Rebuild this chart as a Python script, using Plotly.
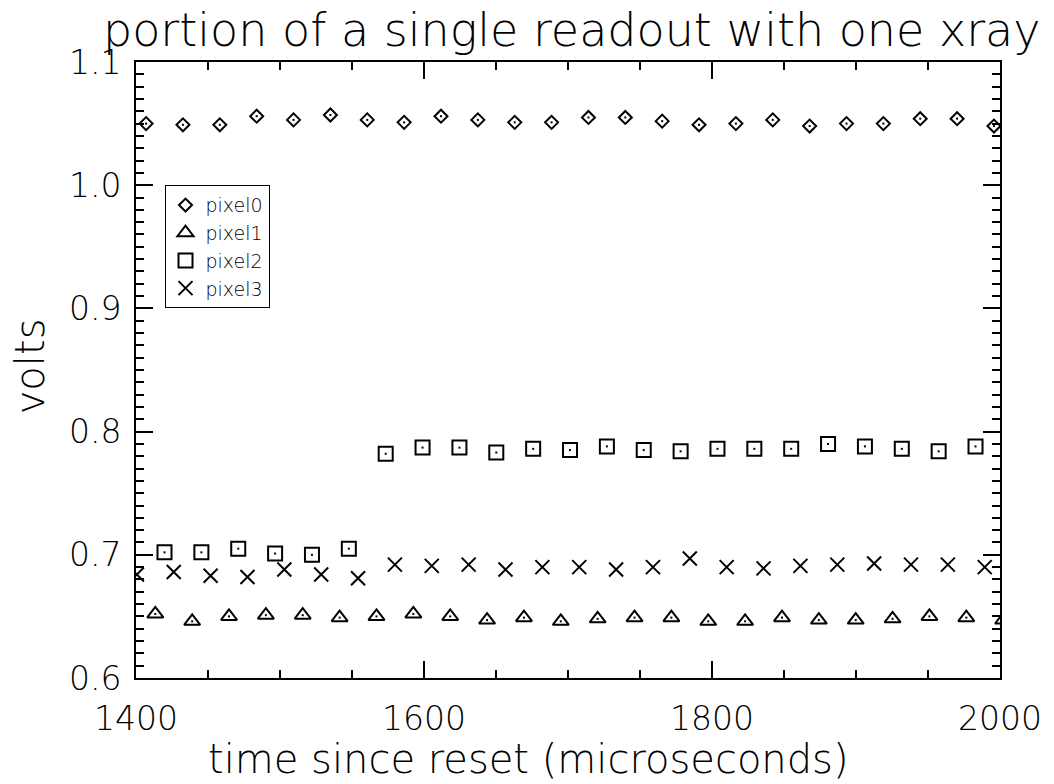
import plotly.graph_objects as go

# sample times (microseconds)
t_pixel0 = [1407.0, 1432.6, 1458.2, 1483.8, 1509.4, 1535.0, 1560.6, 1586.2, 1611.8, 1637.4,
            1663.0, 1688.6, 1714.2, 1739.8, 1765.4, 1791.0, 1816.6, 1842.2, 1867.8, 1893.4,
            1919.0, 1944.6, 1970.2, 1995.8]
t_pixel1 = [1413.4, 1439.0, 1464.6, 1490.2, 1515.8, 1541.4, 1567.0, 1592.6, 1618.2, 1643.8,
            1669.4, 1695.0, 1720.6, 1746.2, 1771.8, 1797.4, 1823.0, 1848.6, 1874.2, 1899.8,
            1925.4, 1951.0, 1976.6, 2002.2]
t_pixel2 = [1419.8, 1445.4, 1471.0, 1496.6, 1522.2, 1547.8, 1573.4, 1599.0, 1624.6, 1650.2,
            1675.8, 1701.4, 1727.0, 1752.6, 1778.2, 1803.8, 1829.4, 1855.0, 1880.6, 1906.2,
            1931.8, 1957.4, 1983.0]
t_pixel3 = [1400.6, 1426.2, 1451.8, 1477.4, 1503.0, 1528.6, 1554.2, 1579.8, 1605.4, 1631.0,
            1656.6, 1682.2, 1707.8, 1733.4, 1759.0, 1784.6, 1810.2, 1835.8, 1861.4, 1887.0,
            1912.6, 1938.2, 1963.8, 1989.4]

# voltages
v_pixel0 = [1.050, 1.049, 1.049, 1.056, 1.053, 1.057, 1.053, 1.051, 1.056, 1.053,
            1.051, 1.051, 1.055, 1.055, 1.052, 1.049, 1.050, 1.053, 1.048, 1.050,
            1.050, 1.054, 1.054, 1.048]
v_pixel1 = [0.652, 0.646, 0.650, 0.651, 0.651, 0.649, 0.650, 0.652, 0.650, 0.647,
            0.649, 0.646, 0.648, 0.649, 0.649, 0.646, 0.646, 0.649, 0.647, 0.647,
            0.648, 0.650, 0.649, 0.647]
v_pixel2 = [0.702, 0.702, 0.705, 0.701, 0.700, 0.705, 0.782, 0.787, 0.787, 0.783,
            0.786, 0.785, 0.788, 0.785, 0.784, 0.786, 0.786, 0.786, 0.790, 0.788,
            0.786, 0.784, 0.788]
v_pixel3 = [0.684, 0.686, 0.683, 0.682, 0.688, 0.684, 0.681, 0.692, 0.691, 0.692,
            0.688, 0.690, 0.690, 0.688, 0.690, 0.697, 0.690, 0.689, 0.691, 0.692,
            0.693, 0.692, 0.692, 0.690]

names = ["pixel0", "pixel1", "pixel2", "pixel3"]
symbols = ["diamond-open", "triangle-up-open", "square-open", "x-thin-open"]
sizes = [10, 14, 14, 14]

FONT = "DejaVu Sans"

fig = go.Figure()
series = [(t_pixel0, v_pixel0), (t_pixel1, v_pixel1), (t_pixel2, v_pixel2), (t_pixel3, v_pixel3)]
for (t, v), name, sym, sz in zip(series, names, symbols, sizes):
    fig.add_trace(go.Scatter(
        x=t, y=v, mode="markers", name=name,
        marker=dict(symbol=sym, size=sz, color="black", line=dict(color="black", width=2)),
    ))
for (t, v), name in zip(series[:3], names[:3]):
    fig.add_trace(go.Scatter(
        x=t, y=v, mode="markers", showlegend=False, hoverinfo="skip",
        marker=dict(symbol="square", size=2, color="black", line=dict(width=0)),
    ))

axis_common = dict(
    showgrid=False, zeroline=False, showline=True, linecolor="black", linewidth=2,
    mirror="allticks", ticks="inside", ticklen=17, tickwidth=2, tickcolor="black",
    tickfont=dict(family=FONT, size=33, color="black", weight=200),
    ticklabeloverflow="allow",
)

fig.update_xaxes(range=[1400, 2000], dtick=200, tick0=1400,
                 minor=dict(dtick=50, ticks="inside", ticklen=8, tickwidth=2, tickcolor="black"),
                 ticklabelstandoff=10,
                 **axis_common)
fig.update_yaxes(range=[0.6, 1.1], dtick=0.1, tick0=0.6, tickformat=".1f",
                 minor=dict(dtick=0.01, ticks="inside", ticklen=8, tickwidth=2, tickcolor="black"),
                 ticklabelstandoff=6,
                 **axis_common)

fig.update_layout(
    width=1054, height=784,
    margin=dict(l=136, r=47, t=62, b=106),
    paper_bgcolor="white", plot_bgcolor="white",
    font=dict(family=FONT, color="black", weight=200),
    showlegend=True,
    legend=dict(x=0.033, y=0.80, xanchor="left", yanchor="top",
                bordercolor="black", borderwidth=1, bgcolor="white",
                font=dict(family=FONT, size=19, color="black", weight=200),
                itemwidth=30, tracegroupgap=0),
    annotations=[
        dict(text="portion of a single readout with one xray", xref="paper", yref="paper",
             x=0.505, y=1.0, yshift=32, xanchor="center", yanchor="middle", showarrow=False,
             font=dict(family=FONT, size=46, color="black", weight=200)),
        dict(text="time since reset (microseconds)", xref="paper", yref="paper",
             x=0.4547, y=0, yshift=-56, xanchor="center", yanchor="top", showarrow=False,
             font=dict(family=FONT, size=40, color="black", weight=200)),
        dict(text="volts", xref="paper", yref="paper", textangle=-90,
             x=0, xshift=-106, y=0.506, xanchor="center", yanchor="middle", showarrow=False,
             font=dict(family=FONT, size=40, color="black", weight=200)),
    ],
)

fig.write_html(
    "out.html",
    config={"displayModeBar": False},
    post_script="document.body.style.margin='0';document.body.style.overflow='hidden';",
)
